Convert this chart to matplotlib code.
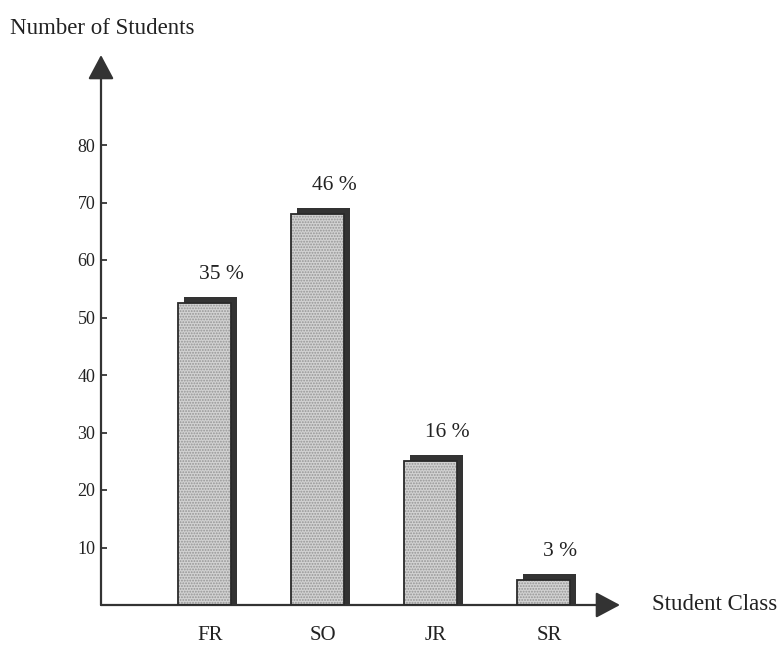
import matplotlib
matplotlib.use("Agg")
import matplotlib.pyplot as plt

# values
classes = ["FR", "SO", "JR", "SR"]
students = [52.5, 68, 25, 4.3]
share_labels = ["35 %", "46 %", "16 %", "3 %"]
y_ticks = [10, 20, 30, 40, 50, 60, 70, 80]

plt.rcParams['font.family'] = ['Liberation Serif', 'DejaVu Serif']
plt.rcParams['hatch.linewidth'] = 0.9

W, H = 784, 659
fig = plt.figure(figsize=(W / 100, H / 100), dpi=100)

# axes box in pixels: y axis at x=101, x axis at y=605, arrow tips at 620 / 55
ax = fig.add_axes([101 / W, (H - 605) / H, (620 - 101) / W, (605 - 55) / H])
px_per_cat = 113.0
x0 = 204.0  # pixel centre of first bar
ax.set_xlim((101 - x0) / px_per_cat, (620 - x0) / px_per_cat)
ax.set_ylim(0, (605 - 55) / 5.75)

for s in ax.spines.values():
    s.set_visible(False)

xs = list(range(len(classes)))
bw = 53 / px_per_cat
dx = 6 / px_per_cat      # shadow offset, right
dy = 6 / 5.75            # shadow offset, up

# shadow
ax.bar([x + dx for x in xs], [v + dy for v in students], width=bw,
       color="#333333", edgecolor="none", zorder=2)
# stippled face
ax.bar(xs, students, width=bw, color="#d2d2d2", edgecolor="#959595",
       linewidth=0, hatch="......", zorder=3)
ax.bar(xs, students, width=bw, fill=False, edgecolor="#2a2a2a",
       linewidth=1.3, zorder=4)

for x, v, lab in zip(xs, students, share_labels):
    ax.annotate(lab, (x, v), xytext=(17, 29), textcoords="offset pixels",
                ha="center", va="center", fontsize=15.5, color="#222222")

for x, lab in zip(xs, classes):
    ax.annotate(lab, (x, 0), xytext=(6, -30), textcoords="offset pixels",
                ha="center", va="center", fontsize=15, color="#222222")

# axes with arrow heads
arrow = dict(arrowstyle="-|>,head_length=1.5,head_width=0.8", color="#333333",
             lw=1.6, shrinkA=0, shrinkB=0, mutation_scale=10)
ax.annotate("", xy=(0, 1), xytext=(0, 0), xycoords="axes fraction",
            arrowprops=arrow)
ax.annotate("", xy=(1, 0), xytext=(0, 0), xycoords="axes fraction",
            arrowprops=arrow)

ax.set_yticks(y_ticks)
ax.set_yticklabels([str(t) for t in y_ticks])
ax.tick_params(axis="y", direction="in", length=4.5, width=1.2, pad=4,
               labelsize=13, colors="#222222")
ax.set_xticks([])

fig.text(10 / W, 1 - 28 / H, "Number of Students", fontsize=16.5,
         ha="left", va="center", color="#222222")
fig.text(652 / W, 1 - 605 / H, "Student Class", fontsize=16.5,
         ha="left", va="center", color="#222222")

fig.savefig("out.png", dpi=100)
